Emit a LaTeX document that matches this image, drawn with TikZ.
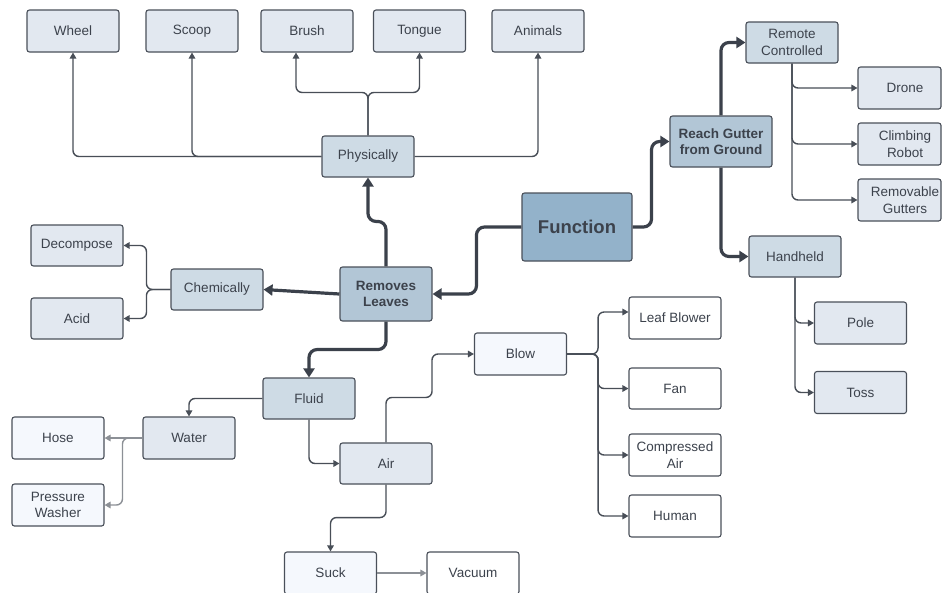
\documentclass[tikz,border=0pt]{standalone}
\usepackage{fontspec}
\setmainfont{Liberation Sans}
\usetikzlibrary{arrows.meta}
\definecolor{fA}{HTML}{F5F8FD}
\definecolor{fB}{HTML}{E2E8F0}
\definecolor{fC}{HTML}{CEDBE5}
\definecolor{fD}{HTML}{B2C6D6}
\definecolor{fE}{HTML}{93B2CA}
\definecolor{bordercol}{HTML}{4A505A}
\definecolor{txtcol}{HTML}{3C424C}
\definecolor{thickcol}{HTML}{3B414B}
\definecolor{thincol}{HTML}{484E57}
\definecolor{graycol}{HTML}{8C9096}
\tikzset{
  box/.style={draw=bordercol, line width=1.1pt, rounded corners=2.5pt, minimum width=92pt, minimum height=42pt, inner sep=2pt, align=center, text=txtcol, font=\fontsize{13.5}{16.5}\selectfont},
  lbl/.style={text=txtcol, font=\fontsize{13.5}{16.5}\selectfont, align=center},
  bigline/.style={draw=thickcol, line width=3.2pt, rounded corners=8pt, -{Triangle[length=9pt,width=11pt]}},
  thinline/.style={draw=thincol, line width=1.4pt, rounded corners=6pt, -{Triangle[length=6pt,width=6.5pt]}},
  grayline/.style={draw=graycol, line width=1.4pt, rounded corners=6pt, -{Triangle[length=6pt,width=6.5pt]}},
}
\begin{document}
\begin{tikzpicture}[x=1pt,y=-1pt]
\fill[white] (0,0) rectangle (942,592);
\useasboundingbox (0,0) rectangle (942,592);
% top row
\node[box, fill=fB] (wheel) at (73,31) {Wheel};
\node[box, fill=fB] (scoop) at (192,31) {Scoop};
\node[box, fill=fB] (brush) at (307,31) {Brush};
\node[box, fill=fB] (tongue) at (419.5,31) {Tongue};
\node[box, fill=fB] (animals) at (538,31) {Animals};
\node[box, fill=fC, minimum height=41pt] (physically) at (368,156.5) {Physically};
% center
\node[box, fill=fE, minimum width=110pt, minimum height=68pt, font=\fontsize{18.5}{22}\selectfont\bfseries] (function) at (577,227) {Function};
\node[box, fill=fD, minimum width=102pt, minimum height=51pt, font=\fontsize{13.5}{16.3}\selectfont\bfseries] (reach) at (721,141.5) {Reach Gutter\\from Ground};
\node[box, fill=fC, minimum height=41pt] (remote) at (792,42.5) {Remote\\Controlled};
\node[box, fill=fB, minimum width=83pt] (drone) at (899.5,88) {};
\node[lbl, xshift=5.5pt] (dronet) at (drone.center) {Drone};
\node[box, fill=fB, minimum width=83pt] (climbing) at (899.5,144) {};
\node[lbl, xshift=5.5pt] (climbingt) at (climbing.center) {Climbing\\Robot};
\node[box, fill=fB, minimum width=83pt] (removable) at (899.5,200) {};
\node[lbl, xshift=5.5pt] (removablet) at (removable.center) {Removable\\Gutters};
\node[box, fill=fC, minimum height=41pt] (handheld) at (795,256.5) {Handheld};
\node[box, fill=fB] (pole) at (860.5,323) {Pole};
\node[box, fill=fB] (toss) at (860.5,392.5) {Toss};
% left
\node[box, fill=fB, minimum height=41pt] (decompose) at (77,245.5) {Decompose};
\node[box, fill=fB, minimum height=41pt] (acid) at (77,318.5) {Acid};
\node[box, fill=fC, minimum height=41pt] (chemically) at (217,289.5) {Chemically};
\node[box, fill=fD, minimum height=54pt, font=\fontsize{13.5}{16.5}\selectfont\bfseries] (removes) at (386,294) {Removes\\Leaves};
% fluid
\node[box, fill=fC, minimum height=41pt] (fluid) at (309,398.5) {Fluid};
\node[box, fill=fB] (water) at (189,438) {Water};
\node[box, fill=fA] (hose) at (58,438) {Hose};
\node[box, fill=fA] (pressure) at (58,505) {Pressure\\Washer};
\node[box, fill=fB, minimum height=41pt] (air) at (386,463.5) {Air};
\node[box, fill=fA] (suck) at (330.5,573) {Suck};
\node[box, fill=white] (vacuum) at (473,573) {Vacuum};
\node[box, fill=fA] (blow) at (520.5,354) {Blow};
\node[box, fill=white] (leafblower) at (675,318) {Leaf Blower};
\node[box, fill=white, minimum height=41pt] (fan) at (675,388.5) {Fan};
\node[box, fill=white] (compressed) at (675,455) {Compressed\\Air};
\node[box, fill=white] (human) at (675,516) {Human};
% thick connectors
\draw[bigline] (function.west) -- ++(-45,0) |- (removes.east);
\draw[bigline] (function.east) -- ++(19,0) |- (reach.west);
\draw[bigline] (reach.north) |- (remote.west);
\draw[bigline] (reach.south) |- (handheld.west);
\draw[bigline] (removes.north) -- ++(0,-45) -| (physically.south);
\draw[bigline] (removes.west) -- (chemically.east);
\draw[bigline] (removes.south) -- ++(0,28) -| (fluid.north);
% thin connectors
\draw[thinline] (physically.west) -| (wheel.south);
\draw[thinline] (physically.west) -| (scoop.south);
\draw[thinline] (physically.east) -| (animals.south);
\draw[thinline] (physically.north) -- ++(0,-43) -| ([xshift=-11pt]brush.south);
\draw[thinline] (physically.north) -- ++(0,-43) -| (tongue.south);
\draw[thinline] (chemically.west) -- ++(-24,0) |- (decompose.east);
\draw[thinline] (chemically.west) -- ++(-24,0) |- (acid.east);
\draw[thinline] (remote.south) |- (drone.west);
\draw[thinline] (remote.south) |- (climbing.west);
\draw[thinline] (remote.south) |- (removable.west);
\draw[thinline] (handheld.south) |- (pole.west);
\draw[thinline] (handheld.south) |- (toss.west);
\draw[thinline] (fluid.west) -| (water.north);
\draw[thinline] (fluid.south) |- (air.west);
\draw[thinline] (air.north) |- ++(46,-45) |- (blow.west);
\draw[thinline] (air.south) -- ++(0,33) -| (suck.north);
\draw[grayline] (suck.east) -- (vacuum.west);
\draw[grayline] (water.west) -- (hose.east);
\draw[grayline] (water.west) -- ++(-20,0) |- (pressure.east);
\draw[thinline] (blow.east) -- ++(31,0) |- ([yshift=6pt]leafblower.west);
\draw[thinline] (blow.east) -- ++(31,0) |- (fan.west);
\draw[thinline] (blow.east) -- ++(31,0) |- (compressed.west);
\draw[thinline] (blow.east) -- ++(31,0) |- (human.west);
\end{tikzpicture}
\end{document}
